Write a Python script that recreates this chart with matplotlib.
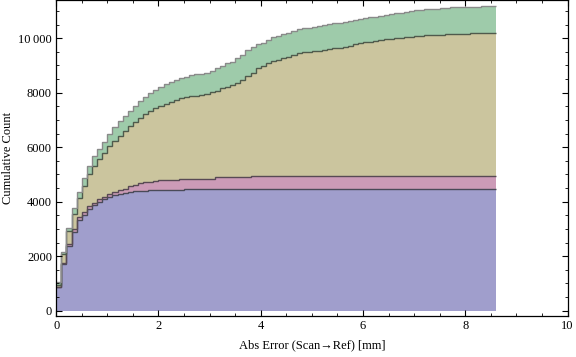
import numpy as np
import matplotlib
matplotlib.use("Agg")
import matplotlib.pyplot as plt
from matplotlib.ticker import MultipleLocator, FixedLocator

# bins of 0.1 mm from 0 to 8.6 mm
bin_width = 0.1
n_bins = 86

# stacked cumulative counts, top edge of each layer
layer1_top = [
    858, 1703, 2390, 2900, 3330, 3520, 3720, 3860, 3980, 4080,
    4163, 4240, 4290, 4320, 4346, 4394, 4394, 4394, 4431, 4431,
    4431, 4431, 4431, 4431, 4431, 4456, 4456, 4456, 4456, 4456,
    4456, 4456, 4456, 4456, 4456, 4456, 4456, 4456, 4456, 4456,
    4456, 4456, 4456, 4456, 4456, 4456, 4456, 4456, 4456, 4456,
    4456, 4456, 4456, 4456, 4456, 4456, 4456, 4456, 4456, 4456,
    4456, 4456, 4456, 4456, 4456, 4456, 4456, 4456, 4456, 4456,
    4456, 4456, 4456, 4456, 4456, 4456, 4456, 4456, 4456, 4456,
    4456, 4456, 4456, 4456, 4456, 4456,
]
layer2_top = [
    880, 1740, 2440, 3000, 3420, 3620, 3850, 3960, 4090, 4185,
    4270, 4340, 4420, 4480, 4560, 4620, 4677, 4713, 4736, 4761,
    4787, 4787, 4810, 4810, 4823, 4823, 4823, 4850, 4850, 4850,
    4850, 4897, 4897, 4897, 4897, 4897, 4897, 4897, 4945, 4945,
    4945, 4945, 4945, 4945, 4945, 4945, 4945, 4945, 4945, 4945,
    4945, 4945, 4945, 4945, 4945, 4945, 4945, 4945, 4945, 4945,
    4945, 4945, 4945, 4945, 4945, 4945, 4945, 4945, 4945, 4945,
    4945, 4945, 4945, 4945, 4945, 4945, 4945, 4945, 4945, 4945,
    4945, 4945, 4945, 4945, 4945, 4945,
]
layer3_top = [
    950, 2070, 2937, 3560, 4126, 4590, 5030, 5320, 5570, 5800,
    6040, 6230, 6420, 6600, 6780, 6938, 7085, 7221, 7342, 7430,
    7526, 7588, 7672, 7735, 7797, 7830, 7865, 7895, 7930, 7960,
    8010, 8077, 8164, 8223, 8285, 8350, 8450, 8616, 8714, 8898,
    8994, 9082, 9166, 9203, 9265, 9302, 9387, 9449, 9486, 9508,
    9520, 9545, 9570, 9596, 9632, 9655, 9691, 9728, 9779, 9816,
    9852, 9875, 9901, 9926, 9962, 9985, 9999, 10022, 10048, 10058,
    10084, 10090, 10109, 10121, 10132, 10135, 10146, 10157, 10169, 10169,
    10172, 10175, 10180, 10183, 10185, 10206,
]
layer4_top = [
    1065, 2170, 3047, 3759, 4346, 4860, 5300, 5660, 5950, 6204,
    6490, 6730, 6960, 7160, 7340, 7520, 7700, 7840, 7975, 8102,
    8215, 8320, 8400, 8465, 8530, 8590, 8635, 8680, 8700, 8740,
    8811, 8898, 8983, 9081, 9118, 9265, 9380, 9550, 9691, 9779,
    9838, 9937, 10036, 10095, 10146, 10206, 10279, 10329, 10366, 10389,
    10426, 10463, 10488, 10525, 10549, 10574, 10610, 10647, 10671, 10696,
    10732, 10769, 10794, 10830, 10855, 10892, 10916, 10941, 10977, 11002,
    11026, 11039, 11063, 11075, 11087, 11100, 11112, 11136, 11136, 11136,
    11149, 11149, 11161, 11173, 11173, 11185,
]

fills = ["#a09ecc", "#cc9bb7", "#cbc59e", "#9ecbaa"]
edges_c = ["#4a4a58", "#584a54", "#4f5a4c", "#8a8a8a"]

plt.rcParams["font.family"] = ["Liberation Serif", "DejaVu Serif"]

fig = plt.figure(figsize=(5.76, 3.57), dpi=100)
ax = fig.add_axes([0.0975, 0.115, 0.888, 0.884])

edges = np.round(np.arange(n_bins + 1) * bin_width, 1)
layers = [np.array(v, dtype=float) for v in (layer1_top, layer2_top, layer3_top, layer4_top)]
base = np.zeros(n_bins)
for top, fc in zip(layers, fills):
    ax.stairs(top, edges, baseline=base, fill=True, color=fc, lw=0)
    base = top

for top, ec in zip(layers, edges_c):
    ax.stairs(top, edges, baseline=None, color=ec, lw=1.0)

ax.set_xlim(0, 10)
ax.set_ylim(-195, 11390)

ax.xaxis.set_major_locator(MultipleLocator(2))
ax.xaxis.set_minor_locator(MultipleLocator(0.5))
ax.yaxis.set_major_locator(FixedLocator([0, 2000, 4000, 6000, 8000, 10000]))
ax.yaxis.set_minor_locator(MultipleLocator(500))
ax.set_yticklabels(["0", "2000", "4000", "6000", "8000", "10\u2009000"])
ax.tick_params(which="both", direction="in", top=True, right=True,
               labelsize=9, pad=3)
ax.tick_params(which="major", length=4.5, width=0.8)
ax.tick_params(which="minor", length=2.5, width=0.6)
for s in ax.spines.values():
    s.set_linewidth(0.9)

ax.set_xlabel("Abs Error (Scan\u2192Ref) [mm]", fontsize=9, labelpad=5)
ax.set_ylabel("Cumulative Count", fontsize=9)
ax.yaxis.set_label_coords(-0.083, 0.5)

fig.savefig("out.png", dpi=100)
